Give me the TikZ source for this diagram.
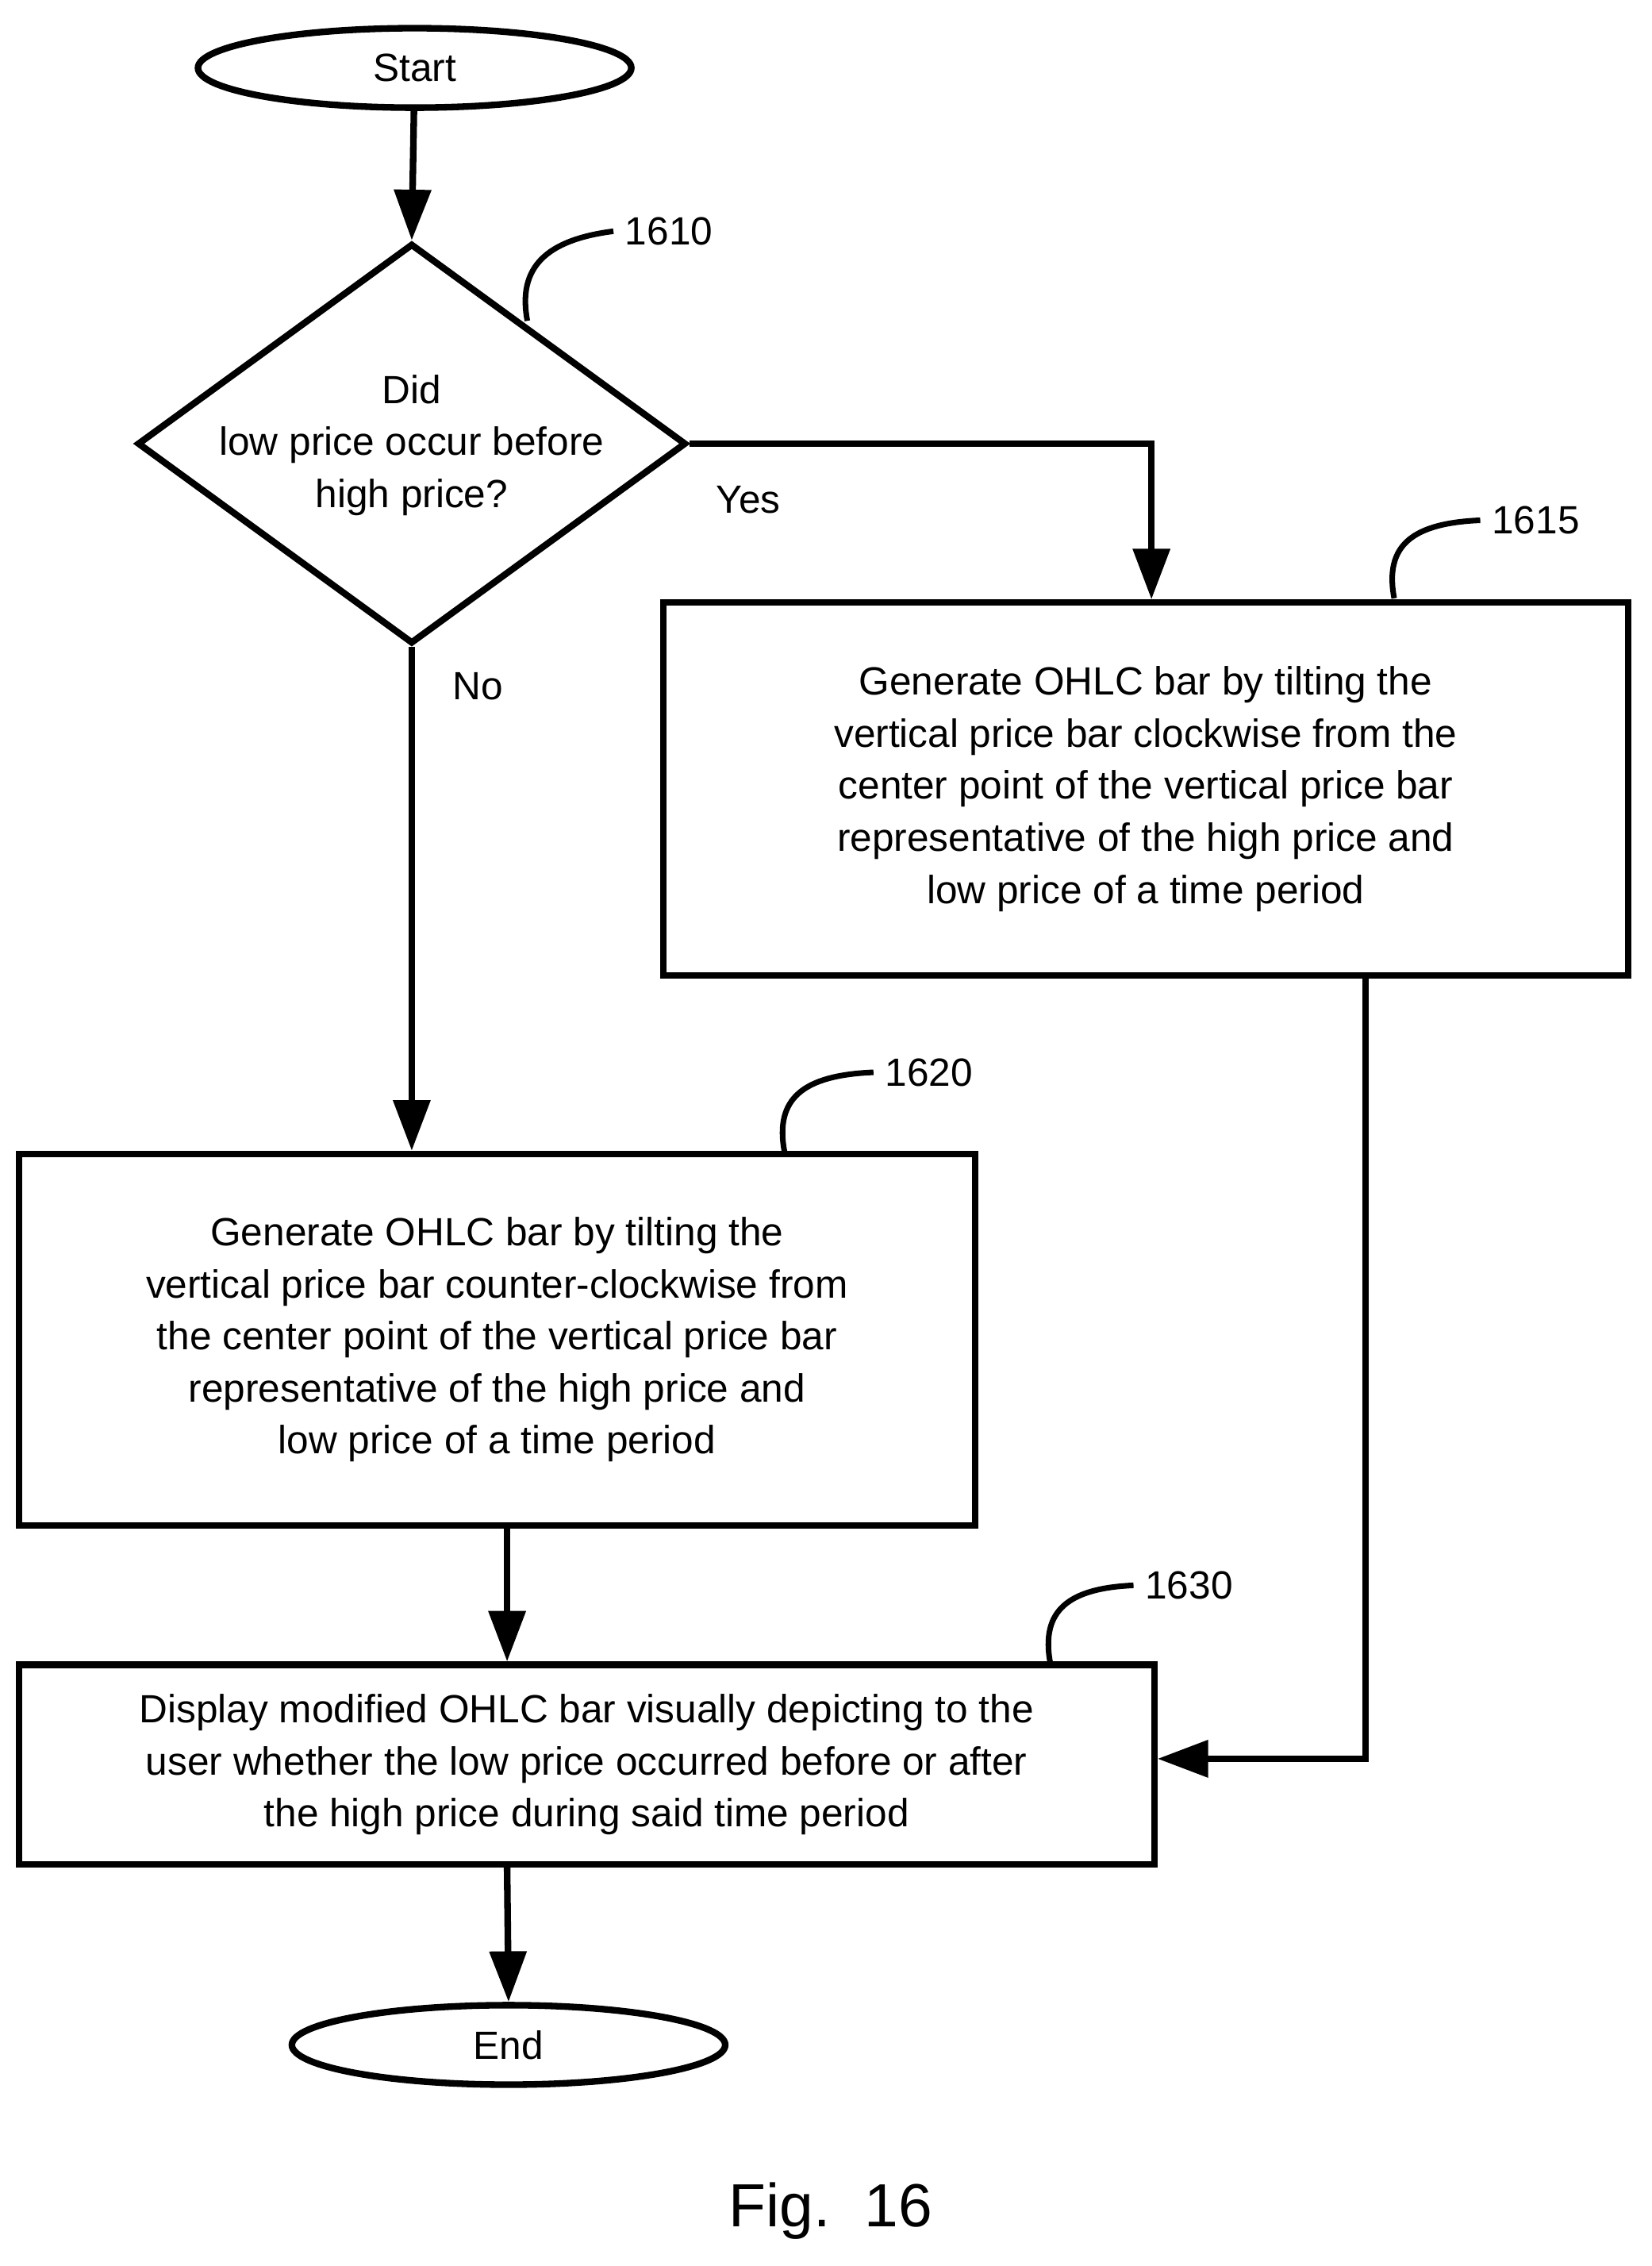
\documentclass[tikz,border=0pt]{standalone}
\usepackage{fontspec}
\setmainfont{Liberation Sans}
\usetikzlibrary{shapes.geometric,arrows.meta}
\begin{document}
\begin{tikzpicture}[x=0.02cm,y=-0.02cm,
  line width=2.6pt,
  txt/.style={font=\fontsize{15.5}{20.5}\selectfont, align=center},
  box/.style={draw, rectangle, inner sep=0pt, txt},
  term/.style={draw, ellipse, minimum width=6cm, minimum height=1.1cm, inner sep=0pt, txt},
  arr/.style={-{Triangle[length=0.7cm,width=0.5cm]}, line width=2.6pt},
  lead/.style={line width=2.2pt},
  lab/.style={font=\fontsize{15.5}{18}\selectfont}]
\useasboundingbox (0,0) rectangle (1143,1568);
\node[term] (start) at (287,47) {Start};
\node[draw, diamond, minimum width=7.6cm, minimum height=5.54cm, inner sep=0pt] (dec) at (285,307) {};
\node[txt] (dect) at (285,308) {Did\\low price occur before\\high price?};
\node[box, minimum width=13.36cm, minimum height=5.16cm] (b1615) at (793,546) {Generate OHLC bar by tilting the\\vertical price bar clockwise from the\\center point of the vertical price bar\\representative of the high price and\\low price of a time period};
\node[box, minimum width=13.24cm, minimum height=5.14cm] (b1620) at (344,927) {Generate OHLC bar by tilting the\\vertical price bar counter-clockwise from\\the center point of the vertical price bar\\representative of the high price and\\low price of a time period};
\node[box, minimum width=15.72cm, minimum height=2.76cm] (b1630) at (406,1221) {Display modified OHLC bar visually depicting to the\\user whether the low price occurred before or after\\the high price during said time period};
\node[term] (end) at (352,1415) {End};
\node[font=\fontsize{24}{28}\selectfont] (fig) at (575,1530) {Fig.\ \ 16};
\node[lab] (yes) at (518,346) {Yes};
\node[lab] (no) at (331,475) {No};
\node[lab] (l1610) at (463,160) {1610};
\node[lab] (l1615) at (1063,360) {1615};
\node[lab] (l1620) at (643,742) {1620};
\node[lab] (l1630) at (823,1097) {1630};
\coordinate (yc) at (797,307);
\coordinate (rc) at (945,1217);
\draw[arr] (start) -- (dec.north);
\draw[arr] (dec.east) -- (yc) -- (b1615.north -| yc);
\draw[arr] (dec.south) -- (b1620.north -| dec.south);
\draw[arr] (b1620.south -| 351,0) -- (b1630.north -| 351,0);
\draw[arr] (b1615.south -| rc) -- (rc) -- (b1630.east |- rc);
\draw[arr] (b1630.south -| 351,0) -- (end.north);
\draw[lead] (365,222) .. controls (358,185) and (378,166) .. (l1610.west);
\draw[lead] (965,414) .. controls (958,377) and (978,362) .. (l1615.west);
\draw[lead] (543,797) .. controls (536,760) and (556,744) .. (l1620.west);
\draw[lead] (727,1151) .. controls (720,1114) and (740,1099) .. (l1630.west);
\end{tikzpicture}
\end{document}
